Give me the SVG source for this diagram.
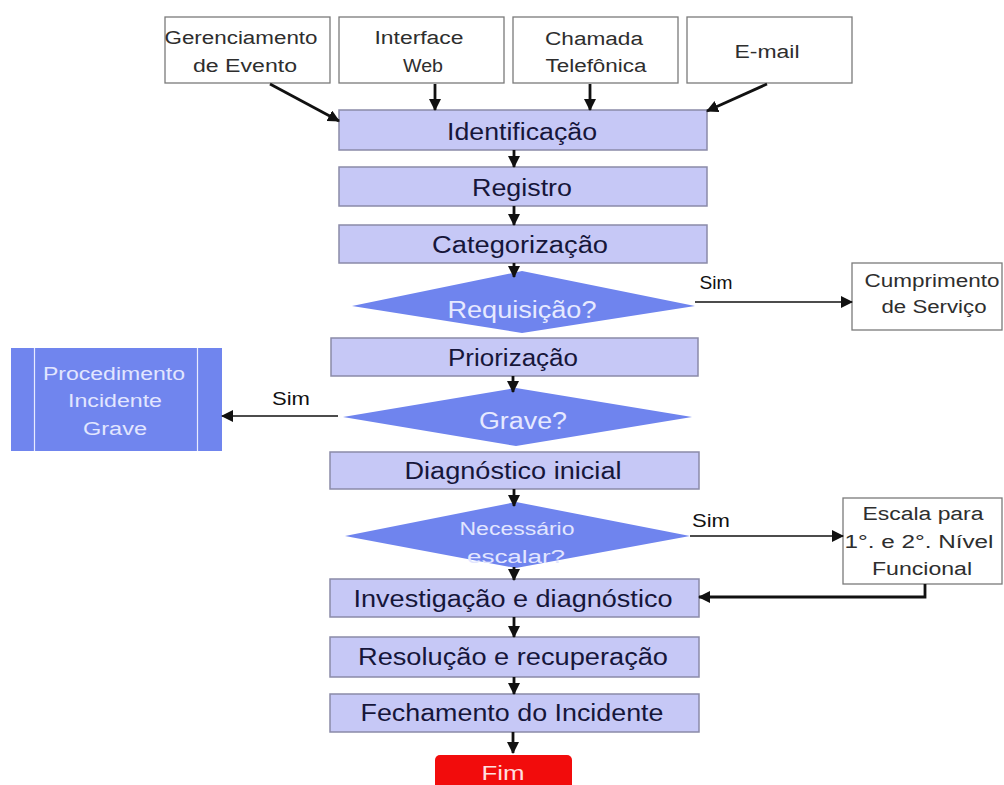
<svg xmlns="http://www.w3.org/2000/svg" width="1004" height="785" viewBox="0 0 1004 785">
<style>
.src{fill:#fff;stroke:#7a7a7a;stroke-width:1.3}
.step{fill:#c6c8f6;stroke:#8a8aa8;stroke-width:1.5}
.dec{fill:#6f84ee;stroke:none}
.proc{fill:#7085ee;stroke:none}
.t{font-family:"Liberation Sans",Arial,sans-serif;text-anchor:middle}
.ts{font-size:18px;fill:#2e2e2e}
.tm{font-size:23px;fill:#16163a}
.tw{font-size:23px;fill:#e6e9ff}
.tl{font-size:18px;fill:#111}
.c{fill:none;stroke:#111}
.thick{stroke-width:2.8}
.thin{stroke-width:1.4}
</style>
<defs>
<marker id="ah" markerUnits="userSpaceOnUse" markerWidth="12" markerHeight="12" viewBox="0 0 12 12" refX="11" refY="6" orient="auto">
<path d="M0,0 L12,6 L0,12 z" fill="#111"/>
</marker>
</defs>
<rect width="1004" height="785" fill="#fff"/>

<g id="gerenciamento"><rect class="src" x="165" y="17" width="165" height="66"/>
<text class="t ts" x="241" y="44" textLength="153" lengthAdjust="spacingAndGlyphs">Gerenciamento</text>
<text class="t ts" x="245" y="72" textLength="104" lengthAdjust="spacingAndGlyphs">de Evento</text></g>
<g id="interface"><rect class="src" x="339" y="17" width="165" height="66"/>
<text class="t ts" x="419" y="44" textLength="89" lengthAdjust="spacingAndGlyphs">Interface</text>
<text class="t ts" x="423" y="72" textLength="40" lengthAdjust="spacingAndGlyphs">Web</text></g>
<g id="chamada"><rect class="src" x="513" y="17" width="165" height="66"/>
<text class="t ts" x="594" y="45" textLength="98" lengthAdjust="spacingAndGlyphs">Chamada</text>
<text class="t ts" x="596" y="72" textLength="101" lengthAdjust="spacingAndGlyphs">Telefônica</text></g>
<g id="email"><rect class="src" x="687" y="17" width="165" height="66"/>
<text class="t ts" x="767" y="58" textLength="65" lengthAdjust="spacingAndGlyphs">E-mail</text></g>

<g id="identificacao"><rect class="step" x="339" y="110" width="368" height="40"/>
<text class="t tm" x="522" y="140" textLength="150" lengthAdjust="spacingAndGlyphs">Identificação</text></g>
<g id="registro"><rect class="step" x="339" y="167" width="368" height="39"/>
<text class="t tm" x="522" y="196" textLength="100" lengthAdjust="spacingAndGlyphs">Registro</text></g>
<g id="categorizacao"><rect class="step" x="339" y="225" width="368" height="38"/>
<text class="t tm" x="520" y="253" textLength="176" lengthAdjust="spacingAndGlyphs">Categorização</text></g>
<g id="requisicao"><polygon class="dec" points="522,271 695,306 522,333 352,306"/>
<text class="t tw" x="522" y="318" textLength="149" lengthAdjust="spacingAndGlyphs">Requisição?</text></g>
<g id="cumprimento"><rect class="src" x="852" y="263" width="150" height="67"/>
<text class="t ts" x="932" y="287" textLength="135" lengthAdjust="spacingAndGlyphs">Cumprimento</text>
<text class="t ts" x="934" y="313" textLength="105" lengthAdjust="spacingAndGlyphs">de Serviço</text></g>
<g id="priorizacao"><rect class="step" x="331" y="338" width="367" height="38"/>
<text class="t tm" x="513" y="366" textLength="130" lengthAdjust="spacingAndGlyphs">Priorização</text></g>
<g id="grave"><polygon class="dec" points="516,388 692,417 516,446 343,417"/>
<text class="t tw" x="523" y="429" textLength="88" lengthAdjust="spacingAndGlyphs">Grave?</text></g>
<g id="procedimento"><rect class="proc" x="11" y="348" width="211" height="103"/>
<line x1="34.5" y1="348" x2="34.5" y2="451" stroke="#e8ebff" stroke-width="1.2"/>
<line x1="197.5" y1="348" x2="197.5" y2="451" stroke="#e8ebff" stroke-width="1.2"/>
<text class="t ts" style="fill:#e2e6ff" x="114" y="380" textLength="142" lengthAdjust="spacingAndGlyphs">Procedimento</text>
<text class="t ts" style="fill:#e2e6ff" x="115" y="407" textLength="94" lengthAdjust="spacingAndGlyphs">Incidente</text>
<text class="t ts" style="fill:#e2e6ff" x="115" y="435" textLength="64" lengthAdjust="spacingAndGlyphs">Grave</text></g>
<g id="diagnostico"><rect class="step" x="330" y="452" width="369" height="37"/>
<text class="t tm" x="513" y="479" textLength="217" lengthAdjust="spacingAndGlyphs">Diagnóstico inicial</text></g>
<g id="escalar"><polygon class="dec" points="516,502 690,536 516,568 345,536"/>
<text class="t ts" style="fill:#e2e6ff" x="517" y="535" textLength="115" lengthAdjust="spacingAndGlyphs">Necessário</text>
<text class="t ts" style="fill:#e2e6ff" x="516" y="563" textLength="98" lengthAdjust="spacingAndGlyphs">escalar?</text></g>
<g id="escala"><rect class="src" x="843" y="498" width="159" height="86"/>
<text class="t ts" x="923" y="520" textLength="121" lengthAdjust="spacingAndGlyphs">Escala para</text>
<text class="t ts" x="919" y="548" textLength="149" lengthAdjust="spacingAndGlyphs">1°. e 2°. Nível</text>
<text class="t ts" x="922" y="575" textLength="100" lengthAdjust="spacingAndGlyphs">Funcional</text></g>
<g id="investigacao"><rect class="step" x="330" y="579" width="369" height="38"/>
<text class="t tm" x="513" y="607" textLength="319" lengthAdjust="spacingAndGlyphs">Investigação e diagnóstico</text></g>
<g id="resolucao"><rect class="step" x="330" y="637" width="369" height="40"/>
<text class="t tm" x="513" y="665" textLength="310" lengthAdjust="spacingAndGlyphs">Resolução e recuperação</text></g>
<g id="fechamento"><rect class="step" x="330" y="694" width="369" height="38"/>
<text class="t tm" x="512" y="721" textLength="303" lengthAdjust="spacingAndGlyphs">Fechamento do Incidente</text></g>
<g id="fim"><rect x="435" y="755" width="137" height="45" rx="5" fill="#f20c0c"/>
<text class="t" style="font-size:20px;fill:#ffe0e0" x="503" y="780" textLength="43" lengthAdjust="spacingAndGlyphs">Fim</text></g>

<g id="connectors">
<line class="c thick" x1="270" y1="84" x2="339" y2="121" marker-end="url(#ah)"/>
<line class="c thick" x1="435" y1="84" x2="435" y2="110" marker-end="url(#ah)"/>
<line class="c thick" x1="590" y1="84" x2="590" y2="110" marker-end="url(#ah)"/>
<line class="c thick" x1="767" y1="84" x2="707" y2="111" marker-end="url(#ah)"/>
<line class="c thick" x1="514" y1="150" x2="514" y2="167" marker-end="url(#ah)"/>
<line class="c thick" x1="514" y1="206" x2="514" y2="225" marker-end="url(#ah)"/>
<line class="c thick" x1="514" y1="263" x2="514" y2="277" marker-end="url(#ah)"/>
<line class="c thin" x1="695" y1="302" x2="852" y2="302" marker-end="url(#ah)"/>
<line class="c thick" x1="513" y1="376" x2="513" y2="392" marker-end="url(#ah)"/>
<line class="c thin" x1="338" y1="416" x2="222" y2="416" marker-end="url(#ah)"/>
<line class="c thick" x1="514" y1="489" x2="514" y2="506" marker-end="url(#ah)"/>
<line class="c thin" x1="690" y1="536" x2="843" y2="536" marker-end="url(#ah)"/>
<line class="c thick" x1="514" y1="567" x2="514" y2="580" marker-end="url(#ah)"/>
<polyline class="c thick" points="925,584 925,597 699,597" marker-end="url(#ah)"/>
<line class="c thick" x1="514" y1="617" x2="514" y2="637" marker-end="url(#ah)"/>
<line class="c thick" x1="514" y1="677" x2="514" y2="694" marker-end="url(#ah)"/>
<line class="c thick" x1="513" y1="732" x2="513" y2="753" marker-end="url(#ah)"/>
<text class="t tl" x="716" y="289" textLength="33" lengthAdjust="spacingAndGlyphs">Sim</text>
<text class="t tl" x="291" y="405" textLength="38" lengthAdjust="spacingAndGlyphs">Sim</text>
<text class="t tl" x="711" y="527" textLength="38" lengthAdjust="spacingAndGlyphs">Sim</text>
</g>
</svg>
